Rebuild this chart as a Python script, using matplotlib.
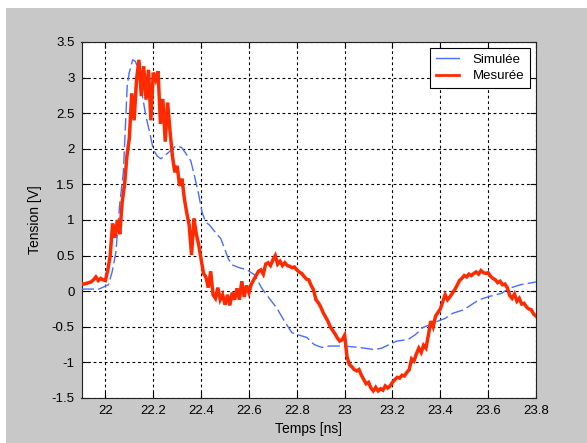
import numpy as np
import matplotlib
matplotlib.use("Agg")
import matplotlib.pyplot as plt
from matplotlib.lines import Line2D
from matplotlib.patches import Rectangle
from matplotlib.ticker import FuncFormatter

# ---- data ----
sim_t = [21.900, 21.973, 22.0125, 22.028, 22.044, 22.059, 22.075, 22.091, 22.099, 22.114,
         22.125, 22.138, 22.153, 22.169, 22.185, 22.200, 22.216, 22.232, 22.247, 22.271,
         22.294, 22.318, 22.333, 22.357, 22.372, 22.388, 22.404, 22.419, 22.435, 22.459,
         22.482, 22.498, 22.513, 22.529, 22.560, 22.592, 22.623, 22.654, 22.685, 22.717,
         22.748, 22.779, 22.803, 22.842, 22.873, 22.905, 22.936, 22.998, 23.061, 23.124,
         23.155, 23.186, 23.218, 23.264, 23.296, 23.327, 23.358, 23.390, 23.421, 23.452,
         23.499, 23.530, 23.562, 23.609, 23.656, 23.687, 23.734, 23.800]
sim_v = [0.03, 0.03, 0.09, 0.27, 0.55, 1.20, 1.67, 2.88, 3.06, 3.25,
         3.23, 3.11, 2.78, 2.46, 2.23, 1.99, 1.90, 1.86, 1.90, 1.97,
         2.04, 2.02, 1.95, 1.83, 1.62, 1.39, 1.11, 0.97, 0.93, 0.83,
         0.74, 0.60, 0.46, 0.37, 0.33, 0.30, 0.23, 0.04, -0.10, -0.24,
         -0.42, -0.58, -0.61, -0.65, -0.75, -0.79, -0.77, -0.77, -0.79, -0.82,
         -0.80, -0.75, -0.70, -0.68, -0.61, -0.51, -0.47, -0.42, -0.38, -0.31,
         -0.26, -0.19, -0.12, -0.07, -0.03, 0.04, 0.09, 0.13]

# measured: oscilloscope samples every 0.01 ns from 21.90 to 23.80
meas_t0, meas_dt = 21.90, 0.01
meas_v = [0.10, 0.10, 0.11, 0.12, 0.13, 0.16, 0.20, 0.15, 0.18, 0.16,
          0.15, 0.30, 0.50, 0.95, 0.75, 1.00, 0.80, 1.25, 1.50, 1.90,
          2.15, 2.78, 2.40, 2.97, 3.25, 2.74, 3.16, 2.69, 3.11, 2.40,
          3.07, 2.97, 3.09, 2.35, 2.70, 2.10, 2.65, 2.25, 1.90, 1.67,
          1.76, 1.48, 1.58, 1.30, 1.10, 0.93, 0.51, 1.02, 0.80, 0.65,
          0.45, 0.25, 0.20, 0.05, 0.28, -0.05, -0.10, 0.05, -0.12, -0.05,
          -0.19, -0.05, -0.20, -0.02, -0.12, 0.04, -0.12, 0.14, -0.08, 0.08,
          -0.02, 0.10, 0.16, 0.22, 0.28, 0.30, 0.24, 0.38, 0.40, 0.36,
          0.44, 0.50, 0.38, 0.42, 0.36, 0.40, 0.36, 0.35, 0.33, 0.34,
          0.30, 0.27, 0.25, 0.21, 0.17, 0.16, 0.08, 0.02, -0.12, -0.16,
          -0.22, -0.30, -0.36, -0.42, -0.50, -0.55, -0.60, -0.66, -0.70, -0.68,
          -0.62, -0.92, -1.03, -1.06, -1.10, -1.12, -1.10, -1.18, -1.24, -1.30,
          -1.28, -1.36, -1.40, -1.35, -1.40, -1.37, -1.39, -1.33, -1.36, -1.33,
          -1.28, -1.24, -1.21, -1.22, -1.18, -1.19, -1.14, -1.10, -0.95, -0.98,
          -0.88, -0.80, -0.86, -0.76, -0.80, -0.62, -0.42, -0.50, -0.35, -0.30,
          -0.25, -0.15, -0.05, -0.12, -0.08, -0.03, 0.02, 0.08, 0.15, 0.18,
          0.22, 0.20, 0.24, 0.22, 0.25, 0.27, 0.24, 0.29, 0.26, 0.25,
          0.26, 0.21, 0.18, 0.16, 0.12, 0.14, 0.09, 0.10, 0.05, -0.06,
          -0.10, -0.04, -0.14, -0.10, -0.18, -0.17, -0.22, -0.25, -0.26, -0.32,
          -0.35]
meas_t = meas_t0 + meas_dt * np.arange(len(meas_v))

x_ticks = [22.0, 22.2, 22.4, 22.6, 22.8, 23.0, 23.2, 23.4, 23.6, 23.8]
y_ticks = [-1.5, -1.0, -0.5, 0.0, 0.5, 1.0, 1.5, 2.0, 2.5, 3.0, 3.5]
labels = ["Simulée", "Mesurée"]

# ---- figure ----
plt.rcParams['font.family'] = ['Liberation Sans', 'DejaVu Sans']
W, H = 587, 443
fig = plt.figure(figsize=(W / 100, H / 100), dpi=100, facecolor='white')
fig.patches.append(Rectangle((6 / W, 0), 1 - 6 / W, 1 - 8 / H, transform=fig.transFigure,
                             facecolor='#c8c8c8', edgecolor='none', zorder=-10))

ax = fig.add_axes([81.5 / W, 1 - 398 / H, (536 - 81.5) / W, (398 - 42) / H])
ax.set_facecolor('white')

blue = '#4a6cff'
red = '#ff2a00'
ax.plot(sim_t, sim_v, color=blue, lw=1.0, linestyle=(0, (9, 3)), zorder=3)
ax.plot(meas_t, meas_v, color=red, lw=2.5, zorder=4, solid_joinstyle='miter')

ax.set_xlim(21.9, 23.8)
ax.set_ylim(-1.5, 3.5)
ax.set_xticks(x_ticks)
ax.set_yticks(y_ticks)
fmt = FuncFormatter(lambda v, p: ('%g' % v).replace('\u2212', '-'))
ax.xaxis.set_major_formatter(fmt)
ax.yaxis.set_major_formatter(fmt)
ax.tick_params(direction='in', length=4, width=0.8, labelsize=9.5, colors='black',
               top=True, right=True, pad=5)
ax.grid(True, color='black', linestyle=(0, (2.5, 2.5)), lw=0.8)
for s in ax.spines.values():
    s.set_linewidth(0.8)
    s.set_color('#222222')

ax.set_xlabel("Temps [ns]", fontsize=10, labelpad=4)
ax.set_ylabel("Tension [V]", fontsize=10, labelpad=7)

handles = [Line2D([0], [0], color=blue, lw=1.0),
           Line2D([0], [0], color=red, lw=2.0)]
leg = ax.legend(handles, labels, loc='upper right', fontsize=9.5, fancybox=False,
                framealpha=1, edgecolor='black', borderpad=0.45, handlelength=1.8,
                handletextpad=1.0, labelspacing=0.3, borderaxespad=0.45)
leg.get_frame().set_linewidth(0.8)

fig.savefig("out.png", dpi=100, facecolor=fig.get_facecolor())
